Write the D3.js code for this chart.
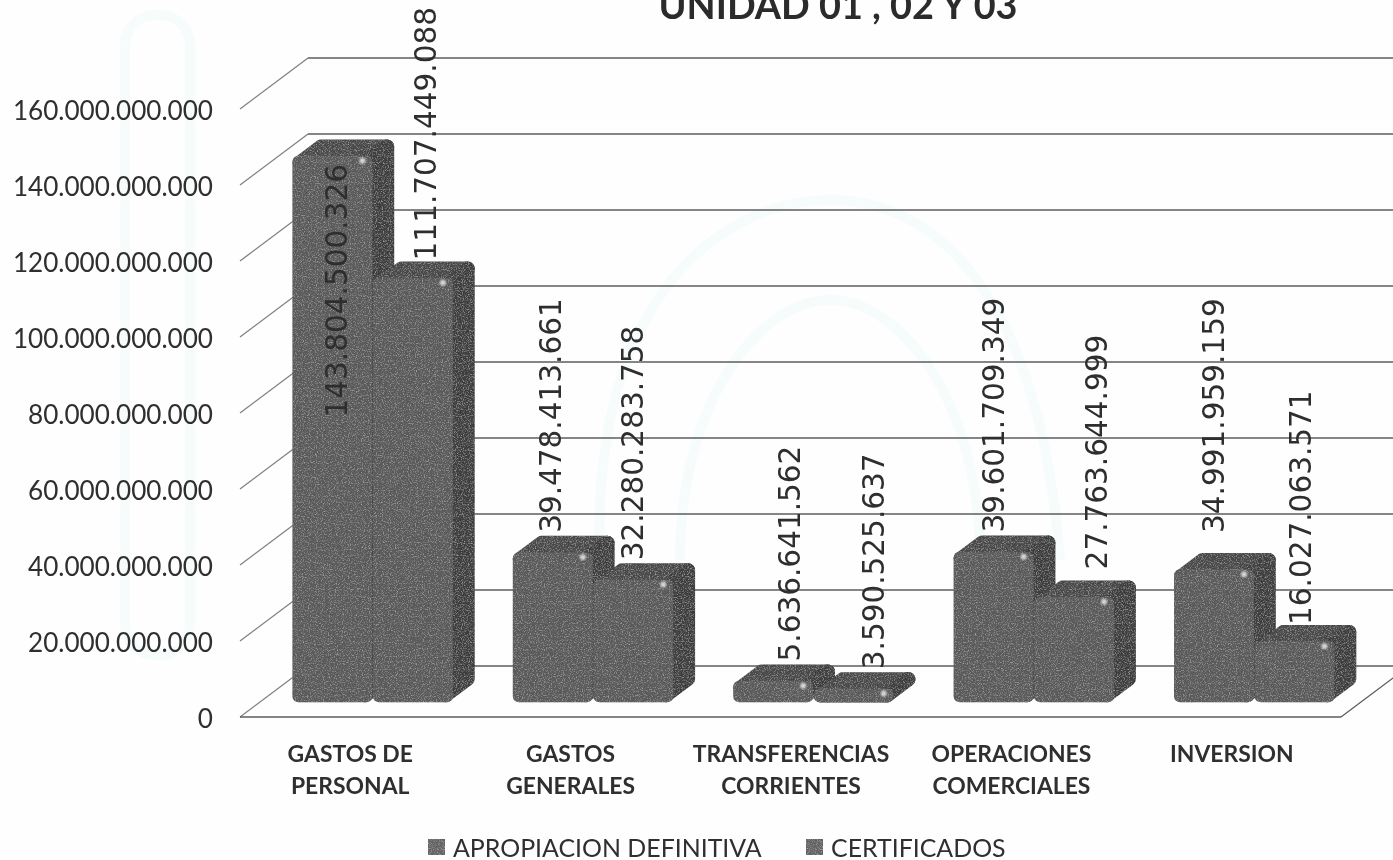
<!DOCTYPE html>
<html>
<head>
<meta charset="utf-8">
<script src="https://cdn.jsdelivr.net/npm/d3@7/dist/d3.min.js"></script>
<style>
  html, body { margin: 0; padding: 0; background: #fefefe; overflow: hidden; }
  svg { display: block; filter: blur(0.4px); }
  .axis-y text { font: 26.1px Lato, sans-serif; fill: #2f2f2f; }
  .axis-x text { font: bold 22.9px Lato, sans-serif; fill: #2f2f2f; }
  .title { font: bold 37.8px Lato, sans-serif; fill: #2b2b2b; }
  .value { font: 29.5px "DejaVu Sans", sans-serif; fill: #2e2e2e; }
  .legend { font: 24.9px Lato, sans-serif; fill: #2f2f2f; }
</style>
</head>
<body>
<script>
var categories = ["GASTOS DE PERSONAL", "GASTOS GENERALES", "TRANSFERENCIAS CORRIENTES", "OPERACIONES COMERCIALES", "INVERSION"];
var seriesNames = ["APROPIACION DEFINITIVA", "CERTIFICADOS"];
var apropiacion = [143804500326, 39478413661, 5636641562, 39601709349, 34991959159];
var certificados = [111707449088, 32280283758, 3590525637, 27763644999, 16027063571];
var yTicks = [0, 20e9, 40e9, 60e9, 80e9, 100e9, 120e9, 140e9, 160e9];
var titleText = "UNIDAD 01 , 02 Y 03";

var width = 1393, height = 860;
var depthX = 68, depthY = 51; // how far the back wall sits from the front plane
var barZ = [0.29, 0.61];
var barWidth = 80;

var x = d3.scaleBand().domain(categories).range([240, 1342]);
var y = d3.scaleLinear().domain([0, 160e9]).range([717, 109]);
var series = d3.scaleBand().domain(seriesNames).range([0, 161]);

var dotted = d3.formatLocale({ decimal: ",", thousands: ".", grouping: [3], currency: ["", ""] }).format(",d");

// the value labels were placed by hand in the original, so they get nudged one by one
var labelX = [[5, 13], [-2, 0], [17, 20], [0, 23], [0, 6]];
var labelY = [[281, 2], [0, 0], [0, 0], [0, -8], [-17, 3]];

var svg = d3.select("body").append("svg").attr("width", width).attr("height", height);

var defs = svg.append("defs");
var grain = defs.append("filter").attr("id", "grain")
    .attr("filterUnits", "userSpaceOnUse")
    .attr("x", 0).attr("y", 0).attr("width", width).attr("height", height);
grain.append("feTurbulence").attr("type", "fractalNoise").attr("baseFrequency", 0.85)
    .attr("numOctaves", 2).attr("seed", 4).attr("result", "noise");
// dark specks from one noise channel, light specks from another
grain.append("feColorMatrix").attr("in", "noise").attr("type", "matrix")
    .attr("values", "0 0 0 0 0.12  0 0 0 0 0.12  0 0 0 0 0.12  1.6 0 0 0 -0.7").attr("result", "dark");
grain.append("feColorMatrix").attr("in", "noise").attr("type", "matrix")
    .attr("values", "0 0 0 0 0.6  0 0 0 0 0.6  0 0 0 0 0.6  0 1.4 0 0 -0.7").attr("result", "light");
grain.append("feComposite").attr("in", "dark").attr("in2", "SourceGraphic").attr("operator", "in").attr("result", "darkIn");
grain.append("feComposite").attr("in", "light").attr("in2", "SourceGraphic").attr("operator", "in").attr("result", "lightIn");
var merge = grain.append("feMerge");
merge.append("feMergeNode").attr("in", "SourceGraphic");
merge.append("feMergeNode").attr("in", "darkIn");
merge.append("feMergeNode").attr("in", "lightIn");
defs.append("filter").attr("id", "soft").append("feGaussianBlur").attr("stdDeviation", 1.3);

function px(xVal, z) { return xVal + z * depthX; }
function py(v, z) { return y(v) - z * depthY; }

// faint watermark of the scanned paper
var mark = svg.append("g").attr("fill", "none").attr("stroke", "#f6fcfc").attr("stroke-width", 10);
mark.append("rect").attr("x", 125).attr("y", 15).attr("width", 65).attr("height", 640).attr("rx", 30);
mark.append("path").attr("d", "M600 560C590 300 720 200 830 200S1040 300 1060 560");
mark.append("path").attr("d", "M680 560C680 400 760 300 830 300S980 400 980 560");

// walls
var walls = svg.append("g").attr("class", "walls").attr("fill", "none").attr("stroke", "#5c5c5c").attr("stroke-width", 1.3);
walls.selectAll("line.back").data(yTicks).join("line").attr("class", "back")
    .attr("x1", px(240, 1)).attr("x2", width)
    .attr("y1", function(d) { return py(d, 1); })
    .attr("y2", function(d) { return py(d, 1); });
walls.selectAll("line.side").data(yTicks).join("line").attr("class", "side")
    .attr("stroke", "#808080")
    .attr("x1", 240).attr("x2", px(240, 1))
    .attr("y1", function(d) { return py(d, 0); })
    .attr("y2", function(d) { return py(d, 1); });
walls.append("line").attr("x1", 240).attr("x2", 1341).attr("y1", y(0)).attr("y2", y(0));
walls.append("line").attr("x1", 1341).attr("x2", 1409).attr("y1", y(0)).attr("y2", y(0) - depthY);

// axes
var yAxis = d3.axisLeft(y).tickValues(yTicks).tickSize(0).tickPadding(0).tickFormat(dotted);
svg.append("g").attr("class", "axis-y").attr("transform", "translate(213,2)").call(yAxis)
    .call(function(g) { g.select(".domain").remove(); });

var xAxis = d3.axisBottom(x).tickSize(0).tickFormat("");
var xG = svg.append("g").attr("class", "axis-x").attr("transform", "translate(0," + y(0) + ")").call(xAxis);
xG.select(".domain").remove();
xG.selectAll(".tick text").each(function(d) {
    var t = d3.select(this).attr("y", 0).attr("dy", null);
    var cut = d.lastIndexOf(" ");
    var lines = cut < 0 ? [d] : [d.slice(0, cut), d.slice(cut + 1)];
    lines.forEach(function(w, i) {
        t.append("tspan").attr("x", 0).attr("y", 45 + i * 32).text(w);
    });
});

// bars
var rows = [];
categories.forEach(function(c, i) {
    rows.push({ c: c, i: i, s: 0, v: apropiacion[i] });
    rows.push({ c: c, i: i, s: 1, v: certificados[i] });
});

function barLeft(d) {
    return x(d.c) + (x.bandwidth() - 161) / 2 + series(seriesNames[d.s]) + 3;
}

var bars = svg.append("g").attr("class", "bars");
var bar = bars.selectAll("g").data(rows).join("g").attr("filter", "url(#grain)");

function poly(pts) {
    return d3.line()(pts) + "Z";
}

var round = 7;

// top face
bar.append("path")
    .attr("fill", "#474747").attr("stroke", "#474747").attr("stroke-width", round * 2).attr("stroke-linejoin", "round")
    .attr("d", function(d) {
        var l = barLeft(d) + round, r = barLeft(d) + barWidth - round, t = d.v, a = barZ[0], b = barZ[1];
        return poly([[px(l, a), py(t, a) + round], [px(r, a), py(t, a) + round], [px(r, b), py(t, b) + round], [px(l, b), py(t, b) + round]]);
    });
// right side
bar.append("path")
    .attr("fill", "#3a3a3a").attr("stroke", "#3a3a3a").attr("stroke-width", round * 2).attr("stroke-linejoin", "round")
    .attr("d", function(d) {
        var r = barLeft(d) + barWidth - round, t = d.v, a = barZ[0], b = barZ[1];
        return poly([[px(r, a), py(t, a) + round], [px(r, b), py(t, b) + round], [px(r, b), py(0, b) - round], [px(r, a), py(0, a) - round]]);
    });
// front face
bar.append("rect")
    .attr("fill", "#5a5a5a").attr("rx", 6)
    .attr("x", function(d) { return px(barLeft(d), barZ[0]); })
    .attr("y", function(d) { return py(d.v, barZ[0]); })
    .attr("width", barWidth)
    .attr("height", function(d) { return y(0) - y(d.v); });

// little highlight near the top right corner of each bar
bars.selectAll("circle").data(rows).join("circle")
    .attr("r", 3).attr("fill", "#d8d8d8").attr("filter", "url(#soft)")
    .attr("cx", function(d) { return px(barLeft(d), barZ[0]) + barWidth - 10; })
    .attr("cy", function(d) { return py(d.v, barZ[0]) + 5; });

// value labels
svg.append("g").selectAll("text").data(rows).join("text")
    .attr("class", "value")
    .attr("dominant-baseline", "central")
    .attr("transform", function(d) {
        var cx = px(barLeft(d), barZ[0]) + barWidth / 2 + labelX[d.i][d.s];
        var by = py(d.v, barZ[1]) - 3 + labelY[d.i][d.s];
        return "translate(" + cx + "," + by + ") rotate(-90)";
    })
    .text(function(d) { return dotted(d.v); });

// title, cut off by the top of the page as in the scan
svg.append("text").attr("class", "title").attr("x", 838).attr("y", 19).attr("text-anchor", "middle").text(titleText);

// legend
var legendX = [428, 806];
var legend = svg.append("g").selectAll("g").data(seriesNames).join("g")
    .attr("transform", function(d, i) { return "translate(" + legendX[i] + ",839)"; });
legend.append("rect").attr("x", 0).attr("y", 0).attr("width", 17).attr("height", 16).attr("fill", "#666").attr("filter", "url(#grain)");
legend.append("text").attr("class", "legend").attr("x", 25).attr("y", 8).attr("dominant-baseline", "central").text(function(d) { return d; });
</script>
</body>
</html>
